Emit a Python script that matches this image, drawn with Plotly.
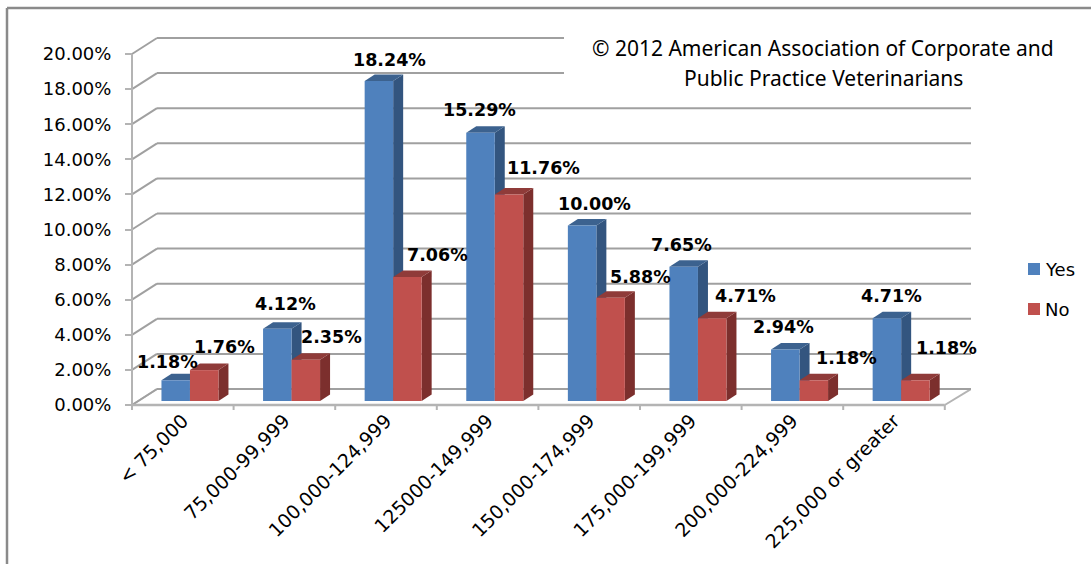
import plotly.graph_objects as go

# ---- data ----
CATEGORIES = ["< 75,000", "75,000-99,999", "100,000-124,999", "125000-149,999",
              "150,000-174,999", "175,000-199,999", "200,000-224,999", "225,000 or greater"]
YES = [1.18, 4.12, 18.24, 15.29, 10.00, 7.65, 2.94, 4.71]
NO = [1.76, 2.35, 7.06, 11.76, 5.88, 4.71, 1.18, 1.18]
Y_TICKS = [0, 2, 4, 6, 8, 10, 12, 14, 16, 18, 20]
NOTE_LINES = ["© 2012 American Association of Corporate and", "Public Practice Veterinarians"]

# ---- label nudges (pixels from the bar's top centre) ----
YES_SHIFT_X = [-8, 8, 11, -1, 12, -2, -2, 5]
YES_SHIFT_Y = [18, 25, 21, 23, 22, 22, 22, 22]
NO_SHIFT_X = [20, 26, 30, 34, 30, 33, 33, 31]
NO_SHIFT_Y = [23, 23, 22, 27, 21, 22, 22, 32]

# ---- styling / layout ----
W, H = 1091, 564
ORIGIN_X, ORIGIN_Y = 132, 405               # where the front axes meet
PLOT_L, PLOT_R, PLOT_T, PLOT_B = 128, 971, 34, 413   # a little wider so nothing clips
CAT_PX = 101.6        # pixels per category
VAL_PX = 17.55        # pixels per percentage point
BLUE, BLUE_SIDE, BLUE_TOP = "#4F81BD", "#33557F", "#3C628F"
RED, RED_SIDE, RED_TOP = "#C0504D", "#7C2F2D", "#8F3B39"
GRID = "#A0A0A0"
AXIS = "#B4B4B4"
FRAME = "#8A8A8A"
FONT = "DejaVu Sans"

BAR_W = 28.5 / CAT_PX
YES_OFF = -0.21
NO_OFF = YES_OFF + BAR_W
DX, DY = 10 / CAT_PX, 6.5 / VAL_PX          # bar depth
BASE = 4 / VAL_PX                           # bars stand inside the floor
WALL_X, WALL_Y = 25 / CAT_PX, 16 / VAL_PX   # back-wall offset
X_MIN = -0.5
X_MAX = X_MIN + (PLOT_R - ORIGIN_X) / CAT_PX
X_END = X_MIN + len(CATEGORIES)
Y_MAX = (ORIGIN_Y - PLOT_T) / VAL_PX
CUT_X = X_MIN + (564 - ORIGIN_X) / CAT_PX   # the note's white box starts here
CUT_Y = 17.3                                # and reaches down to this wall height


def path(points):
    return "M" + "L".join(f"{x:.4f},{y:.4f}" for x, y in points) + "Z"


def poly(points, color):
    return dict(type="path", xref="x", yref="y", layer="below", path=path(points),
                fillcolor=color, line=dict(width=0))


def seg(x0, y0, x1, y1, color=AXIS, width=2.0):
    return dict(type="line", xref="x", yref="y", layer="below", x0=x0, y0=y0, x1=x1, y1=y1,
                line=dict(color=color, width=width))


def px(x):
    return (x - PLOT_L) / (PLOT_R - PLOT_L)


def py(y):
    return (PLOT_B - y) / (PLOT_B - PLOT_T)


shapes = []
# floor outline
shapes.append(seg(X_MIN, 0, X_MIN + WALL_X, WALL_Y))
shapes.append(seg(X_END, 0, X_MAX, WALL_Y))
# wall grid lines
for v in Y_TICKS:
    shapes.append(seg(X_MIN, v, X_MIN + WALL_X, v + WALL_Y, GRID))
    shapes.append(seg(X_MIN + WALL_X, v + WALL_Y, X_MAX, v + WALL_Y, GRID))
# white box behind the note hides the top of the wall
shapes.append(dict(type="rect", xref="x", yref="y", layer="below",
                   x0=CUT_X, x1=X_MAX + 0.1, y0=CUT_Y + WALL_Y, y1=Y_MAX + 1, fillcolor="#FFFFFF", line=dict(width=0)))
# front axes and category ticks
shapes.append(seg(X_MIN, 0, X_MIN, 20))
shapes.append(seg(X_MIN, 0, X_END, 0, AXIS, 2.5))
for i in range(len(CATEGORIES) + 1):
    shapes.append(dict(type="line", xref="x", yref="y", layer="below",
                       x0=X_MIN + i, x1=X_MIN + i, y0=0, y1=-5 / VAL_PX,
                       line=dict(color=AXIS, width=2)))
# bar depth faces, front faces are the bars themselves
for i, (a, b) in enumerate(zip(YES, NO)):
    for val, off, side, top in ((a, YES_OFF, BLUE_SIDE, BLUE_TOP), (b, NO_OFF, RED_SIDE, RED_TOP)):
        x0, x1, t = i + off, i + off + BAR_W, BASE + val
        shapes.append(poly([(x1, BASE), (x1 + DX, BASE + DY), (x1 + DX, t + DY), (x1, t)], side))
        shapes.append(poly([(x0, t), (x1, t), (x1 + DX, t + DY), (x0 + DX, t + DY)], top))
# outer frame
shapes.append(dict(type="line", xref="paper", yref="paper", x0=px(7), x1=px(W), y0=py(8), y1=py(8),
                   line=dict(color=FRAME, width=2.5)))
shapes.append(dict(type="line", xref="paper", yref="paper", x0=px(7), x1=px(7), y0=py(H), y1=py(8),
                   line=dict(color=FRAME, width=2.5)))

xc = list(range(len(CATEGORIES)))
fig = go.Figure()
fig.add_bar(name="Yes", x=xc, y=YES, base=BASE, width=BAR_W, offset=YES_OFF,
            marker=dict(color=BLUE, line=dict(width=0)), showlegend=False)
fig.add_bar(name="No", x=xc, y=NO, base=BASE, width=BAR_W, offset=NO_OFF,
            marker=dict(color=RED, line=dict(width=0)), showlegend=False)

annotations = []
for vals, off, sx, sy in ((YES, YES_OFF, YES_SHIFT_X, YES_SHIFT_Y), (NO, NO_OFF, NO_SHIFT_X, NO_SHIFT_Y)):
    for i, v in enumerate(vals):
        annotations.append(dict(x=i + off + BAR_W / 2, y=BASE + v, xref="x", yref="y", text=f"{v:.2f}%",
                                showarrow=False, xshift=sx[i], yshift=sy[i], xanchor="center", yanchor="middle",
                                font=dict(family=FONT, size=17.5, color="#000000", weight="bold")))

# note
for line, y in zip(NOTE_LINES, (48, 78)):
    annotations.append(dict(xref="paper", yref="paper", x=px(823), y=py(y), xanchor="center", yanchor="middle",
                            showarrow=False, text=line, font=dict(family="Noto Sans", size=21, color="#000000")))
# legend
for name, color, y in (("Yes", BLUE, 269), ("No", RED, 309)):
    shapes.append(dict(type="rect", xref="paper", yref="paper", x0=px(1028), x1=px(1040), y0=py(y + 6), y1=py(y - 6),
                       fillcolor=color, line=dict(width=0)))
    annotations.append(dict(xref="paper", yref="paper", x=px(1043), y=py(y), xanchor="left", yanchor="middle",
                            showarrow=False, text=name, font=dict(family=FONT, size=18, color="#000000")))

fig.update_layout(
    width=W, height=H, autosize=False, barmode="overlay", showlegend=False,
    margin=dict(l=PLOT_L, r=W - PLOT_R, t=PLOT_T, b=H - PLOT_B, pad=0),
    paper_bgcolor="#FFFFFF", plot_bgcolor="rgba(0,0,0,0)",
    shapes=shapes, annotations=annotations,
    xaxis=dict(range=[X_MIN - (ORIGIN_X - PLOT_L) / CAT_PX, X_MAX],
               anchor="free", position=py(ORIGIN_Y),
               tickmode="array", tickvals=xc, ticktext=CATEGORIES, tickangle=-45,
               showgrid=False, zeroline=False, showline=False, ticks="", fixedrange=True,
               tickfont=dict(family=FONT, size=19, color="#000000")),
    yaxis=dict(range=[-(PLOT_B - ORIGIN_Y) / VAL_PX, Y_MAX],
               anchor="free", position=px(ORIGIN_X),
               tickmode="array", tickvals=Y_TICKS, ticktext=[f"{v:.2f}%" for v in Y_TICKS],
               showgrid=False, zeroline=False, showline=False, ticks="outside", ticklen=7, tickwidth=2, tickcolor=AXIS,
               ticklabelstandoff=10, fixedrange=True,
               tickfont=dict(family=FONT, size=18, color="#000000")),
)
fig.write_html("out.html", config=dict(displayModeBar=False),
               post_script="document.body.style.margin='0';")
